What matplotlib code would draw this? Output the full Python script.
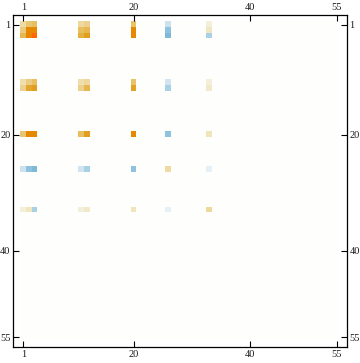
import numpy as np
import matplotlib
matplotlib.use("Agg")
import matplotlib.pyplot as plt
from matplotlib.colors import LinearSegmentedColormap

# 55x55 sparse matrix, nonzero entries only in rows/cols 1-3, 11-12, 20, 26, 33
n = 55
idx = [1, 2, 3, 11, 12, 20, 26, 33]

# values (rows of idx x cols of idx)
vals = [
    [0.25, 0.45, 0.50, 0.28, 0.35, 0.47, -0.30, 0.08],
    [0.40, 0.85, 0.85, 0.50, 0.55, 0.85, -0.60, 0.17],
    [0.55, 0.87, 1.00, 0.60, 0.70, 0.85, -0.70, -0.45],
    [0.22, 0.38, 0.50, 0.22, 0.28, 0.47, -0.28, 0.08],
    [0.35, 0.65, 0.70, 0.35, 0.55, 0.68, -0.45, 0.14],
    [0.45, 0.85, 0.85, 0.50, 0.70, 0.85, -0.60, 0.18],
    [-0.30, -0.60, -0.70, -0.28, -0.45, -0.60, 0.25, -0.10],
    [0.08, 0.17, -0.45, 0.08, 0.14, 0.18, -0.10, 0.28],
]

tick_vals = [1, 20, 40, 55]

mat = np.zeros((n, n))
for i, r in enumerate(idx):
    for j, c in enumerate(idx):
        mat[r - 1, c - 1] = vals[i][j]

# mathematica-ish blue / white / orange scale
anchors = [
    (-1.0, "#5A9BC8"), (-0.7, "#80BAD8"), (-0.6, "#8EC2DE"), (-0.45, "#AAD2E6"),
    (-0.3, "#CFE3EF"), (-0.1, "#E6F1F7"), (0.0, "#FFFFFF"), (0.08, "#F4F0DC"),
    (0.17, "#F0E6C0"), (0.25, "#F0DCA4"), (0.35, "#EDD08E"), (0.45, "#E9C672"),
    (0.5, "#E8C060"), (0.55, "#E7B850"), (0.6, "#E6B040"), (0.7, "#E2A020"),
    (0.85, "#E68A00"), (1.0, "#FF6600"),
]
cmap = LinearSegmentedColormap.from_list(
    "mma", [((v + 1) / 2, c) for v, c in anchors])

plt.rcParams['font.family'] = ['Liberation Serif', 'DejaVu Serif']

fig = plt.figure(figsize=(3.6, 3.63), dpi=100)
ax = fig.add_axes([13.3 / 360, 15.7 / 363, 333.4 / 360, 332.3 / 363])

ax.imshow(mat, cmap=cmap, vmin=-1, vmax=1, interpolation='nearest',
          extent=(0.5, n + 0.5, n + 0.5, 0.5), aspect='auto')

pad = 1.22
ax.set_xlim(0.5 - pad, n + 0.5 + pad)
ax.set_ylim(n + 0.5 + pad, 0.5 - pad)

ax.set_xticks(tick_vals)
ax.set_yticks(tick_vals)
ax.set_xticklabels([str(t) for t in tick_vals])
ax.set_yticklabels([str(t) for t in tick_vals])
ax.tick_params(direction='in', length=4, width=0.8, labelsize=7.5, pad=2,
               top=True, right=True, labeltop=True, labelright=True,
               colors='black', labelcolor='#1a1a1a')
for s in ax.spines.values():
    s.set_linewidth(0.9)

fig.savefig("out.png", dpi=100)
